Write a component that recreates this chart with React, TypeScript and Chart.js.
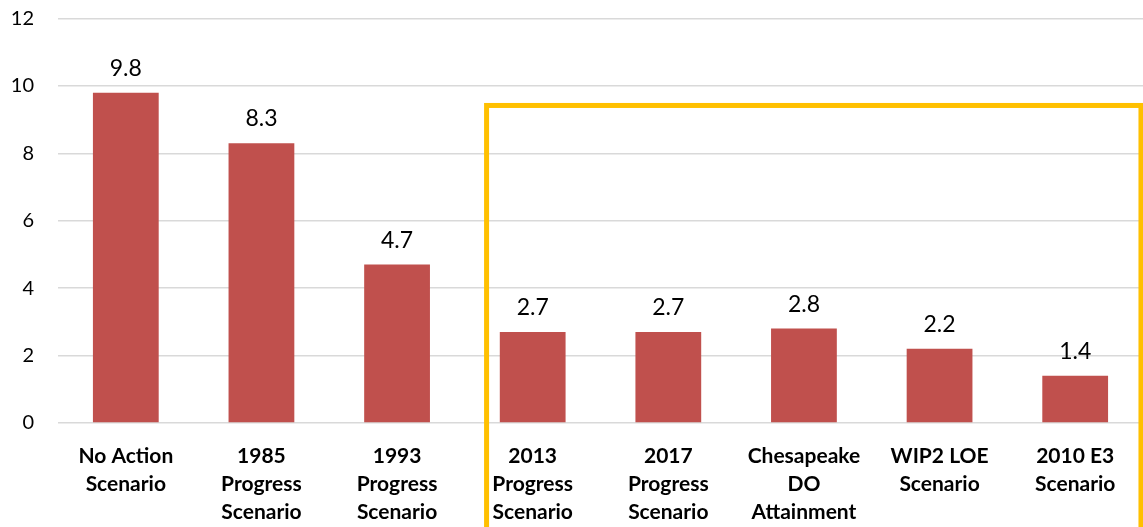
import React, { useEffect, useRef } from "react";
import { Chart, registerables } from "chart.js";

Chart.register(...registerables);

const categories: string[][] = [
  ["No Action", "Scenario"],
  ["1985", "Progress", "Scenario"],
  ["1993", "Progress", "Scenario"],
  ["2013", "Progress", "Scenario"],
  ["2017", "Progress", "Scenario"],
  ["Chesapeake", "DO", "Attainment"],
  ["WIP2 LOE", "Scenario"],
  ["2010 E3", "Scenario"],
];
const values: number[] = [9.8, 8.3, 4.7, 2.7, 2.7, 2.8, 2.2, 1.4];
const yTicks: number[] = [0, 2, 4, 6, 8, 10, 12];
// highlight box extent, in scale units (category index / value)
const boxLeftIndex = 2.66;
const boxRightIndex = 7.485;
const boxTopValue = 9.42;

const FONT = "Lato, 'Open Sans', sans-serif";

const labelPlugin = {
  id: "valueLabels",
  afterDatasetsDraw(chart: any) {
    const ctx = chart.ctx;
    const meta = chart.getDatasetMeta(0);
    ctx.save();
    ctx.font = `23px ${FONT}`;
    ctx.fillStyle = "#000";
    ctx.textAlign = "center";
    ctx.textBaseline = "alphabetic";
    meta.data.forEach((bar: any, i: number) => {
      ctx.fillText(values[i].toFixed(1), bar.x, bar.y - 17);
    });
    ctx.restore();
  },
};

const boxPlugin = {
  id: "highlightBox",
  afterDraw(chart: any) {
    const x = chart.scales.x;
    const y = chart.scales.y;
    const ctx = chart.ctx;
    const left = x.getPixelForValue(boxLeftIndex);
    const right = x.getPixelForValue(boxRightIndex);
    const top = y.getPixelForValue(boxTopValue);
    const bottom = chart.height + 20;
    ctx.save();
    ctx.strokeStyle = "#FFC000";
    ctx.lineWidth = 5;
    ctx.strokeRect(left, top, right - left, bottom - top);
    ctx.restore();
  },
};

export default function App() {
  const ref = useRef<HTMLCanvasElement | null>(null);
  useEffect(() => {
    if (!ref.current) return;
    const chart = new Chart(ref.current, {
      type: "bar",
      data: {
        labels: categories,
        datasets: [
          {
            data: values,
            backgroundColor: "#C0504D",
            borderWidth: 0,
            categoryPercentage: 1,
            barPercentage: 0.485,
          },
        ],
      },
      options: {
        responsive: false,
        animation: false,
        layout: { padding: { top: 18.5, right: 0, left: 0, bottom: 0 } },
        plugins: { legend: { display: false }, tooltip: { enabled: false } },
        scales: {
          x: {
            afterFit: (scale: any) => {
              scale.height = 104;
              scale.paddingLeft = 0;
              scale.paddingRight = 0;
            },
            grid: { display: false, drawTicks: false },
            border: { display: false },
            ticks: {
              font: { family: FONT, size: 21, weight: "bold", lineHeight: 1.333 },
              color: "#000",
              padding: 19,
              maxRotation: 0,
              autoSkip: false,
            },
          },
          y: {
            min: 0,
            max: 12,
            afterFit: (scale: any) => {
              scale.width = 58;
              scale.paddingTop = 0;
              scale.paddingBottom = 0;
            },
            afterBuildTicks: (scale: any) => {
              scale.ticks = yTicks.map((v) => ({ value: v }));
            },
            grid: { color: "#D9D9D9", lineWidth: 1.5, drawTicks: false },
            border: { display: false },
            ticks: {
              font: { family: FONT, size: 20 },
              color: "#000",
              padding: 24,
            },
          },
        },
      },
      plugins: [labelPlugin, boxPlugin],
    });
    return () => chart.destroy();
  }, []);
  return (
    <canvas
      ref={ref}
      width={1143}
      height={527}
      style={{ position: "absolute", left: 0, top: 0, display: "block" }}
    />
  );
}
